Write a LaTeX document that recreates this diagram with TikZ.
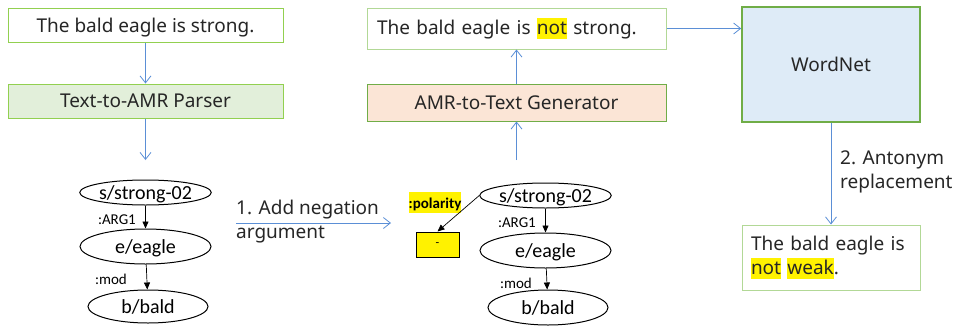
\documentclass[tikz,border=0pt]{standalone}
\usepackage{fontspec}
\setmainfont{Noto Sans}
\newfontfamily\amrfont{Carlito}
\usetikzlibrary{shapes, arrows.meta}
\definecolor{linkblue}{RGB}{91,143,214}
\definecolor{lightgreen}{RGB}{178,216,150}
\definecolor{midgreen}{RGB}{146,208,80}
\definecolor{darkgreen}{RGB}{112,173,71}
\definecolor{parserfill}{RGB}{226,239,218}
\definecolor{genfill}{RGB}{251,229,214}
\definecolor{netfill}{RGB}{222,235,247}
\definecolor{inkgray}{RGB}{38,38,38}
\newcommand{\hl}[1]{{\setlength{\fboxsep}{0pt}\colorbox{yellow}{\vrule height 16pt depth 5pt width 0pt #1}}}

\begin{document}
\begin{tikzpicture}[x=1pt, y=-1pt,
		box/.style={rectangle, draw=midgreen, line width=1pt, fill=white, inner sep=0pt, text=inkgray, font=\fontsize{19}{24}\selectfont},
		amr/.style={ellipse, draw=black, line width=1pt, inner sep=0pt, text height=14pt, text depth=0pt, font=\amrfont\fontsize{20}{24}\selectfont},
		role/.style={inner sep=0pt, font=\amrfont\fontsize{15}{18}\selectfont},
		note/.style={inner sep=0pt, align=left, text=inkgray, font=\fontsize{19}{24}\selectfont},
		flow/.style={draw=linkblue, line width=0.8pt, -{Straight Barb[length=7pt,width=11pt]}},
		rel/.style={draw=black, line width=0.7pt, -{Triangle[length=7pt,width=6pt]}}]
		\useasboundingbox (0,0) rectangle (954,327);
		\def\lx{145.5}
		\def\mx{516.5}
		\def\rx{545.5}
		\node[box, minimum width=275, minimum height=34, text depth=0pt] (sent) at (\lx,25) {The bald eagle is strong.};
		\node[box, fill=parserfill, minimum width=275, minimum height=34, text depth=0pt] (parser) at (\lx,101) {Text-to-AMR Parser};
		\node[box, draw=lightgreen, text width=279, inner xsep=10pt, align=left, minimum height=41] (negsent) at (\mx,28.5) {The bald eagle is \hl{not} strong.};
		\node[box, draw=darkgreen, fill=genfill, minimum width=299, minimum height=37, text depth=0pt] (gen) at (\mx,102.5) {AMR-to-Text Generator};
		\node[box, draw=darkgreen, line width=1.6pt, fill=netfill, minimum width=178, minimum height=115] (wordnet) at (831,64.5) {WordNet};
		\node[box, draw=lightgreen, text width=160, inner xsep=9pt, align=left, minimum height=65] (result) at (831,257.5) {The bald eagle is\\\hl{not} \hl{weak}.};
		\coordinate (parseout) at (\lx,160);
		\coordinate (genin) at (\mx,160);
		\draw[flow] (sent) -- (parser);
		\draw[flow] (parser) -- (parseout);
		\draw[flow] (genin) -- (gen);
		\draw[flow] (gen) -- (negsent);
		\draw[flow] (negsent.east) -- (negsent.east -| wordnet.west);
		\draw[flow] (wordnet) -- (result);
		\node[note, anchor=west] (antonym) at (840,172) {2. Antonym\\replacement};
		\node[amr, minimum width=131, minimum height=25] (ls) at (\lx,192.5) {s/strong-02};
		\node[amr, minimum width=131, minimum height=35] (le) at (\lx,246.5) {e/eagle};
		\node[amr, minimum width=120, minimum height=33] (lb) at (148,306.5) {b/bald};
		\draw[rel] (ls) -- (le);
		\draw[rel] (le) -- (lb);
		\node[role, anchor=east] (largone) at (136,220) {:ARG1};
		\node[role, anchor=east] (lmod) at (127,279) {:mod};
		\node[note, anchor=west] (addneg) at (236,222) {1. Add negation\\argument};
		\coordinate (negstart) at (236,223);
		\coordinate (negend) at (391,223);
		\draw[flow] (negstart) -- (negend);
		\node[amr, minimum width=131, minimum height=25] (rs) at (\rx,195.5) {s/strong-02};
		\node[amr, minimum width=131, minimum height=35] (re) at (\rx,250.5) {e/eagle};
		\node[amr, minimum width=120, minimum height=35] (rb) at (548,307.5) {b/bald};
		\draw[rel] (rs) -- (re);
		\draw[rel] (re) -- (rb);
		\node[role, anchor=east] (rargone) at (536,223) {:ARG1};
		\node[role, anchor=east] (rmod) at (532,283) {:mod};
		\node[rectangle, draw=black, line width=1pt, fill=yellow, minimum width=43, minimum height=25, inner sep=0pt, font=\amrfont\fontsize{12}{14}\selectfont] (minus) at (437.5,244.5) {-};
		\node[role, font=\amrfont\bfseries\fontsize{15}{18}\selectfont] (polarity) at (435,202.5) {\hl{:polarity}};
		\draw[rel] (rs.west) -- (minus.north);
	\end{tikzpicture}
\end{document}
